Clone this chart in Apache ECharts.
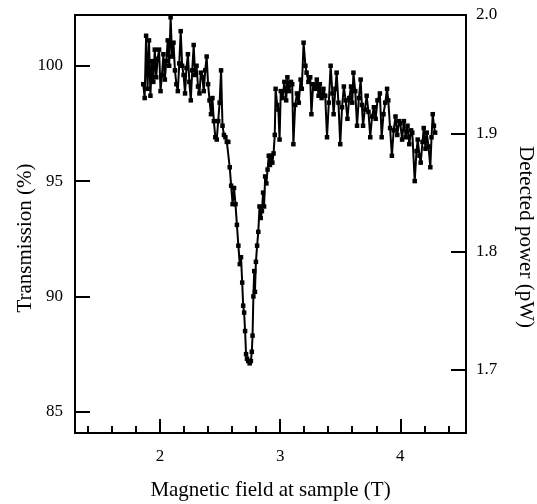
<!DOCTYPE html>
<html>
<head>
<meta charset="utf-8">
<script src="https://cdn.jsdelivr.net/npm/echarts@6/dist/echarts.min.js"></script>
<style>
  html, body { margin: 0; padding: 0; background: #fff; }
  #chart { width: 537px; height: 504px; }
</style>
</head>
<body>
<div id="chart"></div>
<script>
// magnetic field at sample (T)
const fieldT = [
  1.860, 1.872, 1.884, 1.896, 1.908, 1.920, 1.932, 1.944, 1.956, 1.968,
  1.980, 1.992, 2.004, 2.016, 2.028, 2.040, 2.052, 2.064, 2.076, 2.088,
  2.100, 2.112, 2.124, 2.136, 2.148, 2.160, 2.172, 2.184, 2.196, 2.208,
  2.220, 2.232, 2.244, 2.256, 2.268, 2.280, 2.292, 2.304, 2.316, 2.328,
  2.340, 2.352, 2.364, 2.376, 2.388, 2.400, 2.412, 2.424, 2.436, 2.448,
  2.460, 2.472, 2.484, 2.496, 2.508, 2.520, 2.532, 2.544, 2.556, 2.568,
  2.580, 2.592, 2.604, 2.616, 2.628, 2.640, 2.652, 2.664, 2.674, 2.684,
  2.692, 2.700, 2.708, 2.716, 2.724, 2.734, 2.746, 2.756, 2.764, 2.770,
  2.777, 2.784, 2.790, 2.798, 2.808, 2.818, 2.828, 2.838, 2.848, 2.858,
  2.866, 2.875, 2.885, 2.895, 2.905, 2.915, 2.925, 2.935, 2.945, 2.955,
  2.962, 2.975, 2.985, 2.995, 3.005, 3.020, 3.035, 3.050, 3.060, 3.075,
  3.090, 3.100, 3.110, 3.125, 3.140, 3.155, 3.170, 3.180, 3.195, 3.210,
  3.220, 3.235, 3.250, 3.260, 3.275, 3.290, 3.305, 3.320, 3.330, 3.345,
  3.360, 3.375, 3.390, 3.405, 3.420, 3.435, 3.445, 3.460, 3.470, 3.485,
  3.500, 3.515, 3.530, 3.545, 3.560, 3.575, 3.590, 3.600, 3.610, 3.625,
  3.640, 3.655, 3.670, 3.680, 3.690, 3.705, 3.720, 3.735, 3.750, 3.765,
  3.780, 3.795, 3.810, 3.830, 3.845, 3.860, 3.875, 3.890, 3.900, 3.915,
  3.930, 3.945, 3.960, 3.975, 3.990, 4.000, 4.015, 4.030, 4.045, 4.060,
  4.075, 4.090, 4.100, 4.120, 4.135, 4.145, 4.160, 4.170, 4.185, 4.195,
  4.210, 4.220, 4.235, 4.250, 4.260, 4.270, 4.280, 4.290
];
// transmission (%)
const transmission = [
  99.2, 98.6, 101.3, 99.0, 101.1, 98.7, 100.2, 99.3, 100.7, 99.5,
  100.3, 100.7, 98.9, 99.6, 100.5, 99.4, 100.2, 101.1, 100.0, 102.1,
  100.4, 101.0, 99.8, 99.2, 98.9, 100.1, 101.5, 100.0, 99.6, 98.8,
  99.9, 100.5, 99.3, 98.5, 99.8, 100.9, 99.6, 100.0, 99.1, 98.8,
  99.7, 99.5, 98.9, 99.8, 100.4, 99.2, 98.5, 97.9, 98.6, 97.6,
  96.9, 96.8, 97.6, 98.4, 99.8, 97.4, 97.0, 96.9, 96.7, 96.7,
  95.6, 94.8, 94.0, 94.7, 94.0, 93.1, 92.2, 91.4, 91.7, 90.6,
  89.6, 89.3, 88.5, 87.5, 87.3, 87.2, 87.1, 87.2, 87.6, 88.3,
  90.0, 91.1, 90.2, 91.5, 92.2, 92.8, 93.9, 93.4, 93.7, 94.5,
  93.9, 95.2, 94.9, 95.5, 96.1, 95.7, 96.1, 95.8, 96.2, 97.0,
  99.0, 98.3, 98.1, 96.8, 98.9, 98.6, 99.3, 98.5, 99.5, 98.9,
  99.3, 99.2, 96.6, 98.3, 98.8, 98.4, 99.4, 99.0, 101.0, 100.0,
  99.7, 99.3, 99.5, 97.9, 99.2, 99.0, 99.4, 98.7, 99.2, 98.6,
  99.0, 98.7, 96.9, 98.4, 100.0, 98.8, 97.9, 99.0, 99.7, 98.4,
  96.6, 98.2, 99.1, 98.5, 97.7, 98.6, 99.1, 98.4, 99.7, 98.9,
  97.4, 98.6, 99.4, 98.3, 97.4, 98.1, 98.7, 98.0, 96.9, 97.8,
  98.2, 97.7, 98.5, 98.8, 96.9, 97.9, 98.4, 99.0, 98.5, 97.3,
  96.1, 97.2, 97.8, 97.0, 97.6, 97.5, 96.8, 97.6, 96.9, 97.4,
  96.6, 97.2, 97.1, 95.0, 96.3, 96.8, 96.1, 95.8, 96.7, 97.3,
  96.4, 97.1, 96.5, 95.6, 96.9, 97.9, 97.4, 97.1
];

const fieldMajorTicks = [2, 3, 4];
const fieldMinorTicks = [1.4, 1.6, 1.8, 2.2, 2.4, 2.6, 2.8, 3.2, 3.4, 3.6, 3.8, 4.2, 4.4];
const transmissionTicks = [85, 90, 95, 100];
const powerTicks = [1.7, 1.8, 1.9, 2.0];

const FONT = 'Liberation Serif';
const chart = echarts.init(document.getElementById('chart'));

const xRange = { min: 1.292, max: 4.547 };
const lineStyle = { color: '#000', width: 2 };
const labelFont = { fontFamily: FONT, fontSize: 17, color: '#000' };
const nameFont = { fontFamily: FONT, fontSize: 21, color: '#000' };

const option = {
  animation: false,
  grid: {
    left: 75, right: 71, top: 15, bottom: 71,
    outerBoundsMode: 'none',
    show: true, borderColor: '#000', borderWidth: 2
  },
  xAxis: [
    {
      type: 'value', ...xRange, position: 'bottom',
      name: 'Magnetic field at sample (T)',
      nameLocation: 'middle', nameGap: 47, nameMoveOverlap: false,
      nameTextStyle: nameFont,
      axisLine: { show: true, lineStyle },
      axisTick: { show: true, inside: true, length: 14, lineStyle, customValues: fieldMajorTicks },
      axisLabel: { ...labelFont, margin: 15, customValues: fieldMajorTicks },
      splitLine: { show: false }
    },
    {
      type: 'value', ...xRange, position: 'bottom',
      axisLine: { show: false },
      axisTick: { show: true, inside: true, length: 7, lineStyle, customValues: fieldMinorTicks },
      axisLabel: { show: false },
      splitLine: { show: false }
    }
  ],
  yAxis: [
    {
      type: 'value', min: 84.08, max: 102.2,
      name: 'Transmission (%)',
      nameLocation: 'middle', nameGap: 39, nameRotate: 90, nameMoveOverlap: false,
      // the title sits a little below the middle of the axis
      nameTextStyle: { ...nameFont, padding: [0, 28, 0, 0] },
      axisLine: { show: true, lineStyle },
      axisTick: { show: true, inside: true, length: 15, lineStyle, customValues: transmissionTicks },
      axisLabel: { ...labelFont, margin: 12, customValues: transmissionTicks },
      splitLine: { show: false }
    },
    {
      type: 'value', min: 1.6467, max: 2.0, position: 'right',
      name: 'Detected power (pW)',
      nameLocation: 'middle', nameGap: 49, nameRotate: -90, nameMoveOverlap: false,
      nameTextStyle: { ...nameFont, padding: [0, 0, 0, 26] },
      axisLine: { show: true, lineStyle },
      axisTick: { show: true, inside: true, length: 15, lineStyle, customValues: powerTicks },
      axisLabel: {
        ...labelFont, margin: 10,
        customValues: powerTicks, formatter: v => v.toFixed(1)
      },
      splitLine: { show: false }
    }
  ],
  series: [
    {
      type: 'line',
      xAxisIndex: 0, yAxisIndex: 0,
      data: fieldT.map((x, i) => [x, transmission[i]]),
      symbol: 'rect', symbolSize: 4.5,
      itemStyle: { color: '#000' },
      lineStyle: { color: '#000', width: 2 },
      clip: false
    }
  ]
};

chart.setOption(option);
</script>
</body>
</html>
